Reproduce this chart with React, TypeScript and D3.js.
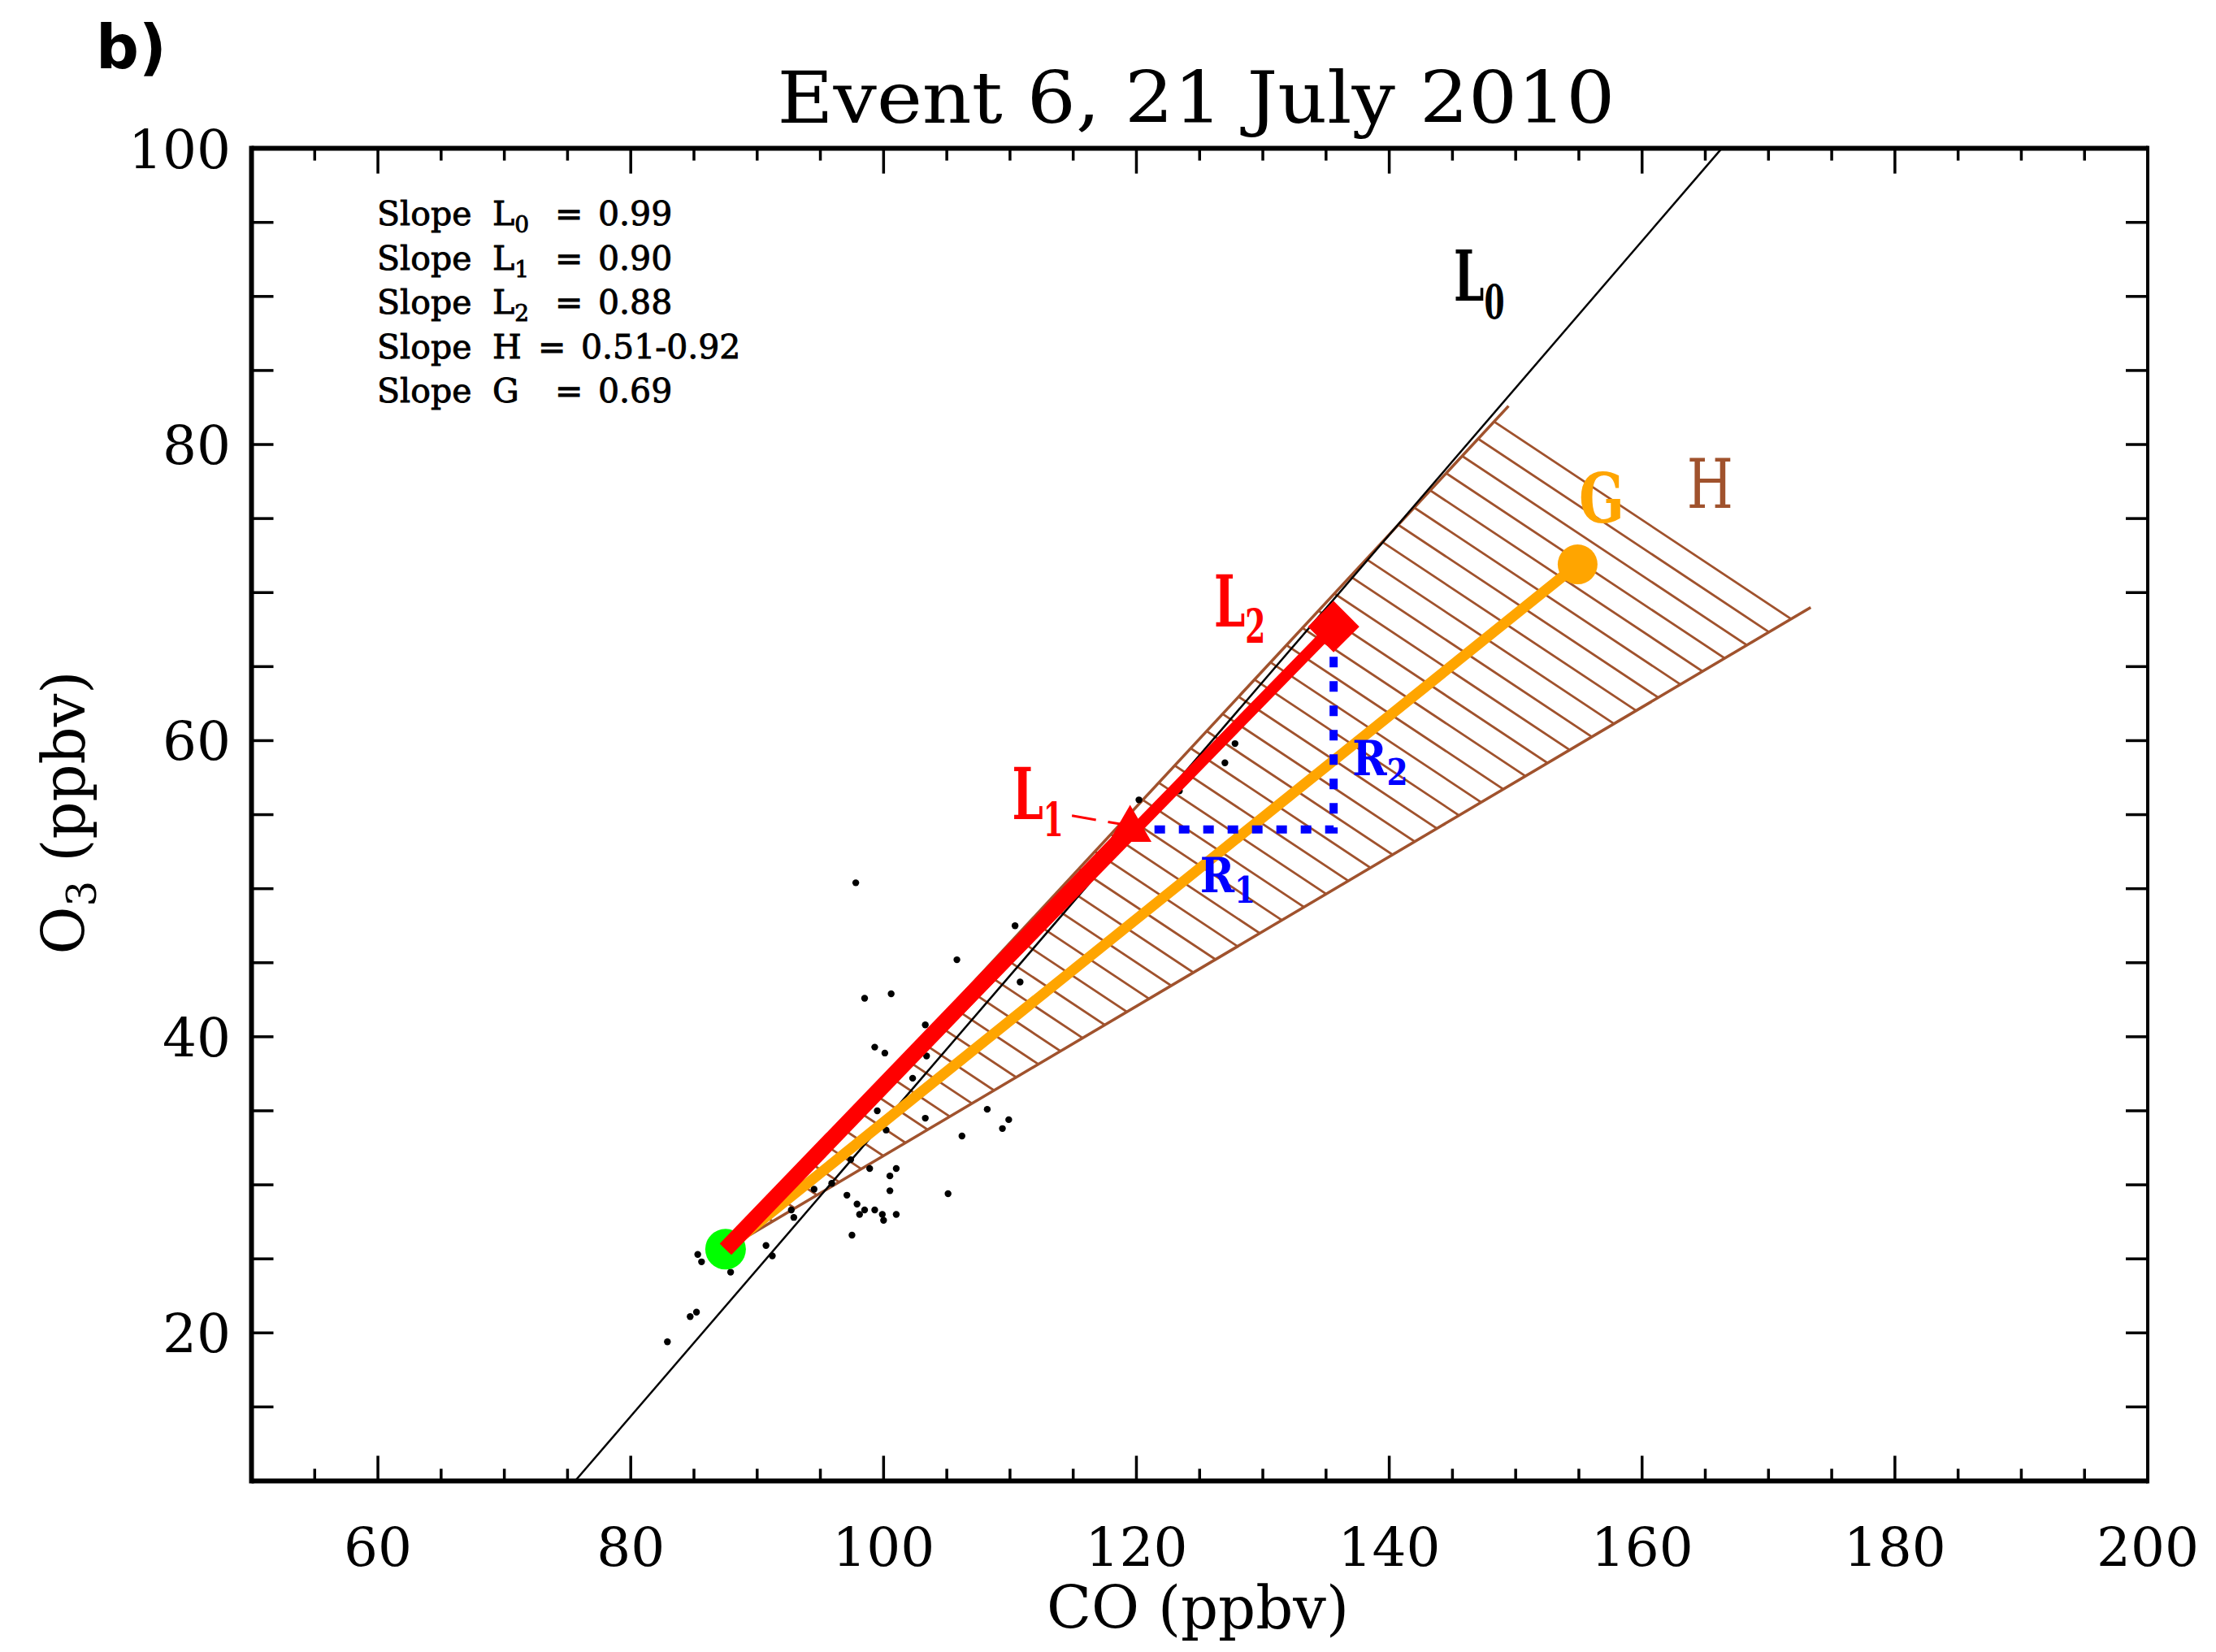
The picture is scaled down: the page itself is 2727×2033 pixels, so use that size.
import * as d3 from "d3";

// ---- data ----
const xDomain = [50, 200];
const yDomain = [10, 100];
const xMajorTicks = [60, 80, 100, 120, 140, 160, 180, 200];
const yMajorTicks = [20, 40, 60, 80, 100];

// observed CO / O3 samples (ppbv)
const obsCO = [
  97.8, 110.4, 105.8, 110.8, 98.5, 100.6, 103.3, 99.3, 100.1, 103.4, 102.3, 99.5,
  103.3, 100.2, 108.2, 109.9, 109.4, 106.2, 97.4, 98.9, 101.0, 100.5, 100.5, 105.1,
  94.5, 95.9, 97.1, 97.9, 98.5, 99.3, 98.1, 99.9, 100.0, 101.0, 92.9, 92.7, 97.5,
  90.7, 91.2, 85.3, 85.6, 87.9, 85.2, 84.7, 82.9, 127.8, 127.0, 123.4, 120.2,
];
const obsO3 = [
  50.4, 47.5, 45.2, 43.7, 42.6, 42.9, 40.8, 39.3, 38.9, 38.7, 37.2, 35.0,
  34.5, 33.7, 35.1, 34.4, 33.8, 33.3, 31.7, 31.1, 31.1, 30.6, 29.6, 29.4,
  29.7, 30.1, 29.3, 28.7, 28.3, 28.3, 28.0, 28.0, 27.6, 28.0, 27.8, 28.3, 26.6,
  25.9, 25.2, 25.3, 24.8, 24.1, 21.4, 21.1, 19.4, 59.8, 58.5, 56.6, 56.0,
];

const startPoint = [87.5, 25.65]; // background (green)
const pointL1 = [119.5, 54.0];
const pointL2 = [135.6, 67.7];
const pointG = [154.9, 71.9];
const hUpperEnd = [149.44, 82.6];
const hLowerEnd = [173.34, 69.0];
const lineL0 = [[75.6, 10], [166.3, 100]];
const leaderL1 = [[114.9, 54.93], [119.2, 54.3]];

const legendNames = ["L", "L", "L", "H", "G"];
const legendSubs = ["0", "1", "2", "", ""];
const legendValues = ["0.99", "0.90", "0.88", "0.51-0.92", "0.69"];

const title = "Event 6, 21 July 2010";
const xTitle = "CO (ppbv)";
const panelTag = "b)";

const serif = "'DejaVu Serif', serif";

function Cond({ x, y, sx = 0.7, fill, size, weight = "bold", main, sub, subDy, subSize, subDx = 0 }) {
  return (
    <text
      transform={`translate(${x},${y}) scale(${sx},1)`}
      fill={fill}
      fontFamily={serif}
      fontWeight={weight}
      fontSize={size}
    >
      {main}
      {sub ? (
        <tspan dx={subDx} dy={subDy} fontSize={subSize}>
          {sub}
        </tspan>
      ) : null}
    </text>
  );
}

export default function App() {
  const width = 2727,
    height = 2033;
  const x = d3.scaleLinear().domain(xDomain).range([309.5, 2643]);
  const y = d3.scaleLinear().domain(yDomain).range([1822.5, 182.6]);
  const line = d3.line().x((d) => x(d[0])).y((d) => y(d[1]));

  const [x0, x1] = x.range();
  const [y0, y1] = y.range();

  const xMinor = d3.range(55, 200, 5).filter((v) => !xMajorTicks.includes(v));
  const yTicks = d3.range(15, 100, 5);

  // hatch lines for region H
  const theta = (33.6 * Math.PI) / 180;
  const ux = Math.cos(theta),
    uy = Math.sin(theta);
  const nx = -uy,
    ny = ux;
  const p0 = [1840.5, 520.1];
  const spacing = 28.5;
  const hatch = d3
    .range(-70, 70)
    .map((k) => {
      const cx = p0[0] + nx * k * spacing,
        cy = p0[1] + ny * k * spacing;
      return `M${cx - ux * 3000},${cy - uy * 3000}L${cx + ux * 3000},${cy + uy * 3000}`;
    })
    .join("");

  const hTriangle = line([startPoint, hUpperEnd, hLowerEnd]) + "Z";

  const legendX = 464,
    legendY = 277,
    legendStep = 54.6;

  return (
    <svg
      width={width}
      height={height}
      viewBox={`0 0 ${width} ${height}`}
      style={{ position: "absolute", left: 0, top: 0, background: "#fff" }}
    >
      <defs>
        <clipPath id="hClip">
          <path d={hTriangle} />
        </clipPath>
      </defs>
      <rect width={width} height={height} fill="#fff" />

      {/* panel tag + title */}
      <text x={118} y={84} fontFamily="'DejaVu Sans', sans-serif" fontWeight="bold" fontSize={74}>
        {panelTag}
      </text>
      <text
        x={1472}
        y={151}
        textAnchor="middle"
        fontFamily={serif}
        fontSize={88}
        textLength={1031}
        lengthAdjust="spacingAndGlyphs"
      >
        {title}
      </text>

      {/* H region */}
      <g clipPath="url(#hClip)">
        <path d={hatch} stroke="#A0522D" strokeWidth={2.8} fill="none" />
      </g>
      <path d={line([startPoint, hUpperEnd])} stroke="#A0522D" strokeWidth={3.5} fill="none" />
      <path d={line([startPoint, hLowerEnd])} stroke="#A0522D" strokeWidth={3.5} fill="none" />

      {/* L0 */}
      <path d={line(lineL0)} stroke="#000" strokeWidth={2.5} fill="none" />

      {/* observations */}
      {obsCO.map((c, i) => (
        <circle key={i} cx={x(c)} cy={y(obsO3[i])} r={4.2} fill="#000" />
      ))}

      {/* G */}
      <path d={line([startPoint, pointG])} stroke="#FFA500" strokeWidth={13} fill="none" />
      <circle cx={x(pointG[0])} cy={y(pointG[1])} r={24.5} fill="#FFA500" />

      {/* green start */}
      <circle cx={x(startPoint[0])} cy={y(startPoint[1])} r={25} fill="#00FF00" />

      {/* L1, L2 */}
      <path d={line([startPoint, pointL1])} stroke="#FF0000" strokeWidth={20} fill="none" />
      <path d={line([startPoint, pointL2])} stroke="#FF0000" strokeWidth={14} fill="none" />

      {/* R1, R2 */}
      <path
        d={line([pointL1, [pointL2[0], pointL1[1]], pointL2])}
        stroke="#0000FF"
        strokeWidth={10}
        strokeDasharray="13 17"
        fill="none"
      />

      <path
        d={d3.symbol(d3.symbolTriangle, 1200)()}
        transform={`translate(${x(pointL1[0])},${y(pointL1[1])})`}
        fill="#FF0000"
      />
      <path
        d={d3.symbol(d3.symbolSquare, 2000)()}
        transform={`translate(${x(pointL2[0])},${y(pointL2[1])}) rotate(45)`}
        fill="#FF0000"
      />

      <path
        d={line(leaderL1)}
        stroke="#FF0000"
        strokeWidth={3}
        strokeDasharray="30 15"
        fill="none"
      />

      {/* labels */}
      <Cond x={x(145.1)} y={y(89.74)} fill="#000" size={86} main="L" sub="0" subDy={22} subSize={58} sx={0.62} />
      <Cond x={x(126.14)} y={y(67.69)} fill="#FF0000" size={88} main="L" sub="2" subDy={20} subSize={58} sx={0.62} />
      <Cond x={x(110.16)} y={y(54.72)} fill="#FF0000" size={88} main="L" sub="1" subDy={21} subSize={58} sx={0.62} />
      <Cond x={x(125.03)} y={y(49.78)} fill="#0000FF" size={60} main="R" sub="1" subDy={13} subSize={44} sx={0.85} />
      <Cond x={x(137.08)} y={y(57.68)} fill="#0000FF" size={60} main="R" sub="2" subDy={12} subSize={44} sx={0.85} />
      <Cond x={x(155.0)} y={y(74.75)} fill="#FFA500" size={84} main="G" sx={0.78} />
      <Cond x={x(163.54)} y={y(75.74)} fill="#A0522D" size={84} weight="normal" main="H" sx={0.78} />

      {/* legend */}
      {legendNames.map((n, i) => {
        const by = legendY + i * legendStep;
        const eqX = legendValues[i].length > 5 ? 198 : 219;
        return (
          <g
            key={i}
            fontFamily={serif}
            fontSize={41}
            fill="#000"
            stroke="#000"
            strokeWidth={0.9}
          >
            <text x={legendX} y={by}>Slope</text>
            <text x={legendX + 142} y={by}>
              {n}
              {legendSubs[i] ? (
                <tspan dy={9} fontSize={28}>
                  {legendSubs[i]}
                </tspan>
              ) : null}
            </text>
            <text x={legendX + eqX} y={by}>=</text>
            <text x={legendX + eqX + 53} y={by}>{legendValues[i]}</text>
          </g>
        );
      })}

      {/* frame */}
      <line x1={x0} x2={x1} y1={y0} y2={y0} stroke="#000" strokeWidth={6} />
      <line x1={x0} x2={x1} y1={y1} y2={y1} stroke="#000" strokeWidth={6} />
      <line x1={x0} x2={x0} y1={y0 + 3} y2={y1 - 3} stroke="#000" strokeWidth={6} />
      <line x1={x1} x2={x1} y1={y0 + 3} y2={y1 - 3} stroke="#000" strokeWidth={4} />

      {/* x ticks */}
      {xMajorTicks.concat(xMinor).map((v) => {
        const len = xMajorTicks.includes(v) ? 31 : 15;
        return (
          <g key={v} stroke="#000" strokeWidth={3.5}>
            <line x1={x(v)} x2={x(v)} y1={y0} y2={y0 - len} />
            <line x1={x(v)} x2={x(v)} y1={y1} y2={y1 + len} />
          </g>
        );
      })}
      {/* y ticks */}
      {yTicks.map((v) => (
        <g key={v} stroke="#000" strokeWidth={3.5}>
          <line x1={x0} x2={x0 + 27} y1={y(v)} y2={y(v)} />
          <line x1={x1} x2={x1 - 27} y1={y(v)} y2={y(v)} />
        </g>
      ))}

      {/* tick labels */}
      {xMajorTicks.map((v) => (
        <text key={v} x={x(v)} y={1927} textAnchor="middle" fontFamily={serif} fontSize={66}>
          {v}
        </text>
      ))}
      {yMajorTicks.map((v) => (
        <text key={v} x={284} y={y(v) + 24} textAnchor="end" fontFamily={serif} fontSize={66}>
          {v}
        </text>
      ))}

      {/* axis titles */}
      <text x={1474} y={2004} textAnchor="middle" fontFamily={serif} fontSize={72}>
        {xTitle}
      </text>
      <text
        transform={`translate(104,1000) rotate(-90)`}
        textAnchor="middle"
        fontFamily={serif}
        fontSize={72}
      >
        O<tspan dy={14} fontSize={50}>3</tspan>
        <tspan dy={-14}> (ppbv)</tspan>
      </text>
    </svg>
  );
}
